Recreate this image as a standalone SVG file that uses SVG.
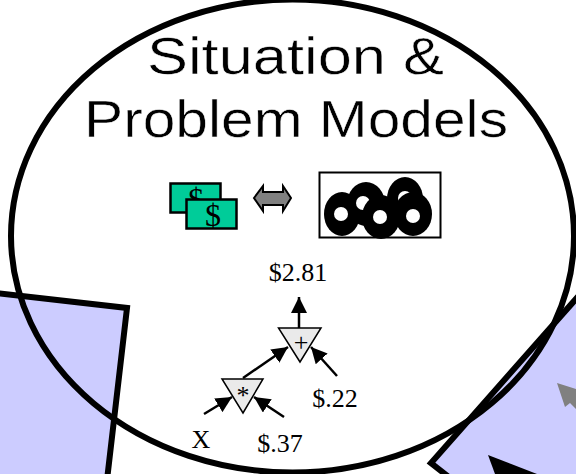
<svg xmlns="http://www.w3.org/2000/svg" width="576" height="474" viewBox="0 0 576 474">
<style>
.s{font-family:"Liberation Serif","Times New Roman",serif;fill:#000}
.l{font-size:32px}
.o{stroke:#000;fill:none}
.t{fill:#eaeaea;stroke:#000;stroke-width:1.5}
.c{stroke:#000;stroke-width:2.5;fill:none;marker-end:url(#a)}
.b{fill:#00cc99;stroke:#000;stroke-width:2.5}
.h{font-family:"Liberation Sans",Arial,sans-serif;font-size:52px;stroke:#fff;stroke-width:.5}
.r{fill:#000}
.w{fill:#fff}
</style>
<defs><marker id="a" markerUnits="userSpaceOnUse" markerWidth="17" markerHeight="16" refX="16" refY="8" orient="auto"><path d="M0 0L16 8L0 16Z" fill="#000"/></marker></defs>
<rect width="576" height="474" fill="#fff"/>
<g id="panel-left"><path d="M-5 293L127 308L107 480L-5 480Z" fill="#ccccff" stroke="#000" stroke-width="6"/></g>
<g id="panel-right"><path d="M590 283L431 463L450 478L590 478Z" fill="#ccccff" stroke="#000" stroke-width="6"/>
<path d="M557 383L576 389L576 409L570 403L565 407Z" fill="#808080"/>
<path d="M488 455L537 474L495 474Z" fill="#000"/></g>
<g id="situation-oval"><ellipse cx="292.500" cy="236" rx="281.500" ry="236.500" class="o" stroke-width="6"/>
<text x="147" y="74" class="h" textLength="297" lengthAdjust="spacingAndGlyphs">Situation &amp;</text>
<text x="84" y="137" class="h" textLength="424" lengthAdjust="spacingAndGlyphs">Problem Models</text></g>
<g id="money"><rect x="170.500" y="183.500" width="50" height="29" class="b"/><text x="196" y="210" text-anchor="middle" class="s l">$</text>
<rect x="186.500" y="199.500" width="50" height="29" class="b"/><text x="213" y="226" text-anchor="middle" class="s l">$</text></g>
<g id="double-arrow"><path d="M254 198L263 186L263 192L283 192L283 186L291 198L283 211L283 205L263 205L263 211Z" fill="#808080" stroke="#000" stroke-width="2"/></g>
<g id="tokens"><rect x="319.500" y="172.500" width="121" height="65" fill="#fff" stroke="#000" stroke-width="2"/>
<ellipse cx="342" cy="214" rx="18" ry="22" class="r"/><circle cx="341" cy="214" r="7" class="w"/>
<ellipse cx="366" cy="204" rx="19" ry="22" class="r"/><circle cx="363" cy="203" r="7" class="w"/>
<ellipse cx="405" cy="199" rx="18" ry="22" class="r"/><circle cx="405" cy="198" r="7" class="w"/>
<ellipse cx="381" cy="217" rx="19" ry="22" class="r"/><circle cx="380" cy="217" r="7" class="w"/>
<ellipse cx="413" cy="214" rx="19" ry="22" class="r"/><circle cx="413" cy="216" r="7" class="w"/></g>
<g id="plus-node"><path d="M278.500 328L321 328L300 362Z" class="t"/><text x="301" y="351" text-anchor="middle" class="s" font-size="26">+</text></g>
<g id="times-node"><path d="M222 379L263 379L243 413Z" class="t"/><text x="243" y="404" text-anchor="middle" class="s" font-size="26">*</text></g>
<g id="connectors">
<path d="M299 328L299 297" class="c"/>
<path d="M243 378L288 347" class="c"/>
<path d="M337 376L311 347" class="c"/>
<path d="M204 414L232 397" class="c"/>
<path d="M284 417L254 397" class="c"/>
</g>
<g id="labels" class="s" font-size="26">
<text x="298" y="281" text-anchor="middle">$2.81</text>
<text x="335" y="407" text-anchor="middle">$.22</text>
<text x="201" y="448" text-anchor="middle">X</text>
<text x="280" y="452" text-anchor="middle">$.37</text>
</g>
</svg>
